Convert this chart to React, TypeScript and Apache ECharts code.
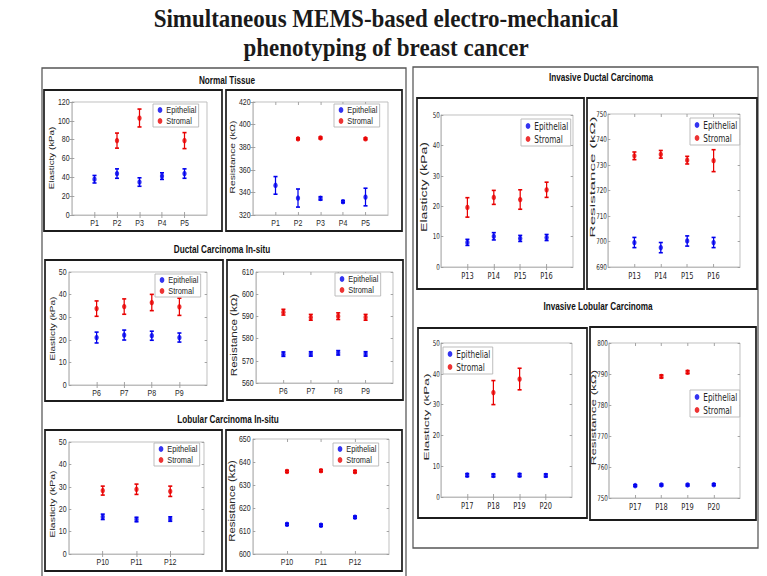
import React, { useEffect, useRef } from 'react';
import * as echarts from 'echarts';

// ---------------- data ----------------
const normalPatients = [1, 2, 3, 4, 5];
const dcisPatients = [6, 7, 8, 9];
const lcisPatients = [10, 11, 12];
const idcPatients = [13, 14, 15, 16];
const ilcPatients = [17, 18, 19, 20];

const normalElastEpi = [38, 44, 35, 41.3, 44];
const normalElastEpiErr = [4, 5, 4.5, 3.5, 5];
const normalElastStr = [null, 79, 103, null, 79];
const normalElastStrErr = [null, 8, 9.5, null, 8.5];
const normalResEpi = [346.2, 335, 334.7, 331.8, 335.9];
const normalResEpiErr = [7.8, 8, 1.5, 1, 7.8];
const normalResStr = [null, 387.4, 388.2, null, 387.4];
const normalResStrErr = [null, 0.8, 0.8, null, 0.8];

const dcisElastEpi = [21, 22.1, 21.8, 21];
const dcisElastEpiErr = [2.4, 2.2, 2, 2];
const dcisElastStr = [33.8, 34.7, 36.5, 34.6];
const dcisElastStrErr = [3.4, 3.4, 3.6, 3.8];
const dcisResEpi = [573, 573.1, 573.6, 573.1];
const dcisResEpiErr = [1, 1, 1, 1];
const dcisResStr = [591.9, 589.6, 590.1, 589.6];
const dcisResStrErr = [1.3, 1.3, 1.5, 1.3];

const lcisElastEpi = [16.6, 15.4, 15.6];
const lcisElastEpiErr = [1.2, 1, 1];
const lcisElastStr = [28.3, 28.9, 28.0];
const lcisElastStrErr = [2, 2.3, 2.3];
const lcisResEpi = [612.9, 612.5, 616.0];
const lcisResEpiErr = [0.5, 0.5, 0.5];
const lcisResStr = [635.9, 636.2, 635.8];
const lcisResStrErr = [0.5, 0.5, 0.5];

const idcElastEpi = [8.1, 10.1, 9.4, 9.7];
const idcElastEpiErr = [1, 1.2, 1, 1];
const idcElastStr = [19.6, 22.9, 22.2, 25.4];
const idcElastStrErr = [3.2, 2.3, 3.2, 2.5];
const idcResEpi = [699.6, 697.6, 700.2, 699.6];
const idcResEpiErr = [2, 2, 2, 2];
const idcResStr = [733.6, 734.2, 731.9, 731.7];
const idcResStrErr = [1.5, 1.5, 1.5, 4.3];

const ilcElastEpi = [7.1, 7.0, 7.1, 7.0];
const ilcElastEpiErr = [0.5, 0.5, 0.5, 0.5];
const ilcElastStr = [null, 33.9, 38.3, null];
const ilcElastStrErr = [null, 3.9, 3.5, null];
const ilcResEpi = [754.0, 754.2, 754.2, 754.3];
const ilcResEpiErr = [0.3, 0.3, 0.3, 0.3];
const ilcResStr = [null, 789.2, 790.6, null];
const ilcResStrErr = [null, 0.5, 0.5, null];

// y axis [min, max, interval]
const normalElastAxis = [0, 120, 20];
const normalResAxis = [320, 420, 20];
const dcisElastAxis = [0, 50, 10];
const dcisResAxis = [560, 610, 10];
const lcisElastAxis = [0, 50, 10];
const lcisResAxis = [600, 650, 10];
const idcElastAxis = [0, 50, 10];
const idcResAxis = [690, 750, 10];
const ilcElastAxis = [0, 50, 10];
const ilcResAxis = [750, 800, 10];

// x axis [min, max]
const normalXRange = [0, 6];
const dcisXRange = [5, 10];
const lcisXRange = [9, 13];
const idcXRange = [12, 17];
const ilcXRange = [16, 21];

const SERIES_EPI = 'Epithelial';
const SERIES_STR = 'Stromal';
const ELAST_NAME = 'Elasticty (kPa)';
const RES_NAME = 'Resistance (kΩ)';
const MAIN_TITLE_1 = 'Simultaneous MEMS-based electro-mechanical';
const MAIN_TITLE_2 = 'phenotyping of breast cancer';
const SECTION_TITLES = ['Normal Tissue', 'Ductal Carcinoma In-situ', 'Lobular Carcinoma In-situ', 'Invasive Ductal Carcinoma', 'Invasive Lobular Carcinoma'];

// ---------------- layout ----------------
const CW = 983;
const CH = 576;
const S = 767 / CW; // horizontal squeeze of the slide
const X = (v: number) => v / S;

const BLUE = '#0000ee';
const RED = '#e80000';
const AX = '#b8b8b8';
const TXT = '#262626';
const SANS = "'Liberation Sans', Arial, sans-serif";
const NARROW = "'Liberation Sans Narrow', 'DejaVu Sans Condensed', 'Liberation Sans', Arial, sans-serif";

type Panel = {
  xs: number[]; xr: number[]; ya: number[]; yName: string;
  epi: (number | null)[]; epiErr: (number | null)[]; str: (number | null)[]; strErr: (number | null)[];
  frame: number[]; grid: number[]; legend: number[];
  nameX: number; nameY: number; nameSize: number; nameStretch: number; big: boolean;
};

const panels: Panel[] = [
  { xs: normalPatients, xr: normalXRange, ya: normalElastAxis, yName: ELAST_NAME, epi: normalElastEpi, epiErr: normalElastEpiErr, str: normalElastStr, strErr: normalElastStrErr,
    frame: [44, 90, 222, 231], grid: [72, 102, 207, 215], legend: [153, 104], nameX: 51, nameY: 158, nameSize: 10, nameStretch: 0.98, big: false },
  { xs: normalPatients, xr: normalXRange, ya: normalResAxis, yName: RES_NAME, epi: normalResEpi, epiErr: normalResEpiErr, str: normalResStr, strErr: normalResStrErr,
    frame: [226, 90, 402, 231], grid: [253, 102, 388, 215], legend: [334, 104], nameX: 232.8, nameY: 157, nameSize: 10, nameStretch: 1.02, big: false },
  { xs: dcisPatients, xr: dcisXRange, ya: dcisElastAxis, yName: ELAST_NAME, epi: dcisElastEpi, epiErr: dcisElastEpiErr, str: dcisElastStr, strErr: dcisElastStrErr,
    frame: [45, 260, 223, 401], grid: [69, 272, 207, 385], legend: [155, 274], nameX: 52.3, nameY: 328.5, nameSize: 10, nameStretch: 1, big: false },
  { xs: dcisPatients, xr: dcisXRange, ya: dcisResAxis, yName: RES_NAME, epi: dcisResEpi, epiErr: dcisResEpiErr, str: dcisResStr, strErr: dcisResStrErr,
    frame: [227, 260, 403, 400], grid: [256, 272, 393, 383], legend: [335, 273], nameX: 234, nameY: 335, nameSize: 10.5, nameStretch: 1.1, big: false },
  { xs: lcisPatients, xr: lcisXRange, ya: lcisElastAxis, yName: ELAST_NAME, epi: lcisElastEpi, epiErr: lcisElastEpiErr, str: lcisElastStr, strErr: lcisElastStrErr,
    frame: [45, 430, 222, 571], grid: [69, 442, 204, 554], legend: [154, 443], nameX: 52.5, nameY: 504, nameSize: 10.3, nameStretch: 1.02, big: false },
  { xs: lcisPatients, xr: lcisXRange, ya: lcisResAxis, yName: RES_NAME, epi: lcisResEpi, epiErr: lcisResEpiErr, str: lcisResStr, strErr: lcisResStrErr,
    frame: [226, 430, 402, 571], grid: [253, 439, 389, 554], legend: [333, 443], nameX: 232.3, nameY: 501, nameSize: 10.5, nameStretch: 1.09, big: false },
  { xs: idcPatients, xr: idcXRange, ya: idcElastAxis, yName: ELAST_NAME, epi: idcElastEpi, epiErr: idcElastEpiErr, str: idcElastStr, strErr: idcElastStrErr,
    frame: [417, 98, 584, 289], grid: [441, 115, 573, 267], legend: [521, 119], nameX: 424, nameY: 187, nameSize: 10.5, nameStretch: 1.34, big: true },
  { xs: idcPatients, xr: idcXRange, ya: idcResAxis, yName: RES_NAME, epi: idcResEpi, epiErr: idcResEpiErr, str: idcResStr, strErr: idcResStrErr,
    frame: [587, 98, 757, 289], grid: [608, 114, 740, 267], legend: [690, 118], nameX: 592, nameY: 177, nameSize: 9.5, nameStretch: 1.79, big: true },
  { xs: ilcPatients, xr: ilcXRange, ya: ilcElastAxis, yName: ELAST_NAME, epi: ilcElastEpi, epiErr: ilcElastEpiErr, str: ilcElastStr, strErr: ilcElastStrErr,
    frame: [418, 328, 587, 518], grid: [441, 343, 572, 497], legend: [443, 347], nameX: 426.5, nameY: 417, nameSize: 10.3, nameStretch: 1.32, big: true },
  { xs: ilcPatients, xr: ilcXRange, ya: ilcResAxis, yName: RES_NAME, epi: ilcResEpi, epiErr: ilcResEpiErr, str: ilcResStr, strErr: ilcResStrErr,
    frame: [590, 327, 756, 520], grid: [609, 343, 740, 498], legend: [690, 390], nameX: 593.5, nameY: 417.5, nameSize: 9.5, nameStretch: 1.41, big: true },
];

const sectionTitlePos = [[227, 80], [222, 249], [228, 419], [601, 77], [598, 306]];

const errRenderer = (color: string) => (params: any, api: any) => {
  const x = api.value(0);
  const top = api.coord([x, api.value(2)]);
  const bot = api.coord([x, api.value(1)]);
  const cap = 2.6;
  const st = { stroke: color, lineWidth: 1.6 };
  return {
    type: 'group',
    children: [
      { type: 'line', shape: { x1: top[0], y1: top[1], x2: bot[0], y2: bot[1] }, style: st },
      { type: 'line', shape: { x1: top[0] - cap, y1: top[1], x2: top[0] + cap, y2: top[1] }, style: st },
      { type: 'line', shape: { x1: bot[0] - cap, y1: bot[1], x2: bot[0] + cap, y2: bot[1] }, style: st },
    ],
  };
};

function buildOption() {
  const grid: any[] = [];
  const xAxis: any[] = [];
  const yAxis: any[] = [];
  const series: any[] = [];
  const legend: any[] = [];
  const graphic: any[] = [];

  // section frames
  graphic.push(
    { type: 'rect', shape: { x: X(42), y: 68, width: X(406) - X(42), height: 530 }, style: { fill: 'none', stroke: '#555', lineWidth: 1.6 }, silent: true },
    { type: 'rect', shape: { x: X(413), y: 67, width: X(758) - X(413), height: 548 - 67 }, style: { fill: 'none', stroke: '#555', lineWidth: 1.6 }, silent: true },
  );

  panels.forEach((p, i) => {
    const [gl, gt, gr, gb] = p.grid;
    grid.push({
      left: X(gl), top: gt, width: X(gr) - X(gl), height: gb - gt,
      containLabel: false, outerBoundsMode: 'none',
      show: true, borderColor: AX, borderWidth: 1, backgroundColor: '#fff',
    });
    const lblSize = p.big ? 8 : 9;
    const lblFont = p.big ? NARROW : SANS;
    xAxis.push({
      type: 'value', gridIndex: i, min: p.xr[0], max: p.xr[1], interval: 1,
      axisLine: { show: true, lineStyle: { color: AX } },
      axisTick: { show: true, inside: true, length: 3, customValues: p.xs, lineStyle: { color: '#999' } },
      axisLabel: { customValues: p.xs, formatter: (v: number) => 'P' + v, fontSize: p.big ? 9.5 : 9, fontFamily: lblFont, color: TXT, margin: 4 },
      splitLine: { show: false },
    });
    yAxis.push({
      type: 'value', gridIndex: i, min: p.ya[0], max: p.ya[1], interval: p.ya[2],
      axisLine: { show: true, lineStyle: { color: AX } },
      axisTick: { show: true, inside: true, length: 3, lineStyle: { color: '#999' } },
      axisLabel: { fontSize: lblSize, fontFamily: lblFont, color: TXT, margin: p.big ? 1.5 : 3 },
      splitLine: { show: false },
    });
    const mk = (vals: (number | null)[]) => p.xs.map((x, k) => (vals[k] == null ? null : [x, vals[k]])).filter((d) => d) as number[][];
    const mkErr = (vals: (number | null)[], errs: (number | null)[]) =>
      p.xs.map((x, k) => (vals[k] == null || errs[k] == null ? null : [x, (vals[k] as number) - (errs[k] as number), (vals[k] as number) + (errs[k] as number)]))
        .filter((d) => d) as number[][];
    series.push({ type: 'custom', name: 'Epithelial error', xAxisIndex: i, yAxisIndex: i, data: mkErr(p.epi, p.epiErr), encode: { x: 0, y: [1, 2] }, renderItem: errRenderer(BLUE), silent: true, z: 2 });
    series.push({ type: 'custom', name: 'Stromal error', xAxisIndex: i, yAxisIndex: i, data: mkErr(p.str, p.strErr), encode: { x: 0, y: [1, 2] }, renderItem: errRenderer(RED), silent: true, z: 2 });
    series.push({ type: 'scatter', name: SERIES_EPI, xAxisIndex: i, yAxisIndex: i, data: mk(p.epi), symbol: 'circle', symbolSize: 5.5, itemStyle: { color: BLUE }, z: 3 });
    series.push({ type: 'scatter', name: SERIES_STR, xAxisIndex: i, yAxisIndex: i, data: mk(p.str), symbol: 'circle', symbolSize: 5.5, itemStyle: { color: RED }, z: 3 });

    const fs = p.big ? 10.5 : 9.5;
    const lh = p.big ? 12 : 10;
    legend.push({
      orient: 'vertical', left: X(p.legend[0]), top: p.legend[1],
      itemWidth: 6, itemHeight: 6, itemGap: 1, padding: [1, 3, 1, 6],
      borderColor: '#b4b4b4', borderWidth: 1, backgroundColor: '#fff', selectedMode: false,
      textStyle: { fontSize: fs, lineHeight: lh, color: TXT, fontFamily: p.big ? NARROW : SANS },
      data: [{ name: SERIES_EPI, icon: 'circle' }, { name: SERIES_STR, icon: 'circle' }],
    });

    const [fl, ft, fr, fb] = p.frame;
    graphic.push({
      type: 'rect', shape: { x: X(fl), y: ft, width: X(fr) - X(fl), height: fb - ft },
      style: { fill: 'none', stroke: '#1c1c1c', lineWidth: 2.2 }, silent: true,
    });
    // y-axis title, rotated
    graphic.push({
      type: 'text', x: X(p.nameX), y: p.nameY, rotation: Math.PI / 2, scaleX: p.nameStretch, silent: true,
      style: { text: p.yName, fontSize: p.nameSize, fontFamily: SANS, fill: TXT,
        align: 'center', verticalAlign: 'middle', textAlign: 'center', textVerticalAlign: 'middle' },
    });
  });

  // top / right tick axes (box ticks like MATLAB)
  panels.forEach((p, i) => {
    xAxis.push({
      type: 'value', gridIndex: i, position: 'top', min: p.xr[0], max: p.xr[1], interval: 1,
      axisLine: { show: false }, axisLabel: { show: false }, splitLine: { show: false },
      axisTick: { show: true, inside: true, length: 3, customValues: p.xs, lineStyle: { color: '#999' } },
    });
    yAxis.push({
      type: 'value', gridIndex: i, position: 'right', min: p.ya[0], max: p.ya[1], interval: p.ya[2],
      axisLine: { show: false }, axisLabel: { show: false }, splitLine: { show: false },
      axisTick: { show: true, inside: true, length: 3, lineStyle: { color: '#999' } },
    });
  });

  SECTION_TITLES.forEach((t, k) => {
    graphic.push({
      type: 'text', x: X(sectionTitlePos[k][0]), y: sectionTitlePos[k][1], silent: true,
      style: { text: t, fontSize: 10.5, fontWeight: 'bold', fontFamily: SANS, fill: '#111',
        align: 'center', verticalAlign: 'middle', textAlign: 'center', textVerticalAlign: 'middle' },
    });
  });

  [[MAIN_TITLE_1, 19], [MAIN_TITLE_2, 48]].forEach(([t, y]) => {
    graphic.push({
      type: 'text', x: X(386), y: y as number, scaleX: 1.18, silent: true,
      style: { text: t as string, fontSize: 25, fontWeight: 'bold', fontFamily: "'Liberation Serif', 'DejaVu Serif', serif", fill: '#1a1a1a',
        align: 'center', verticalAlign: 'middle', textAlign: 'center', textVerticalAlign: 'middle' },
    });
  });

  return {
    animation: false,
    backgroundColor: '#ffffff',
    textStyle: { fontFamily: SANS },
    grid, xAxis, yAxis, series, legend, graphic,
  };
}

export default function App() {
  const ref = useRef<HTMLDivElement>(null);
  useEffect(() => {
    document.documentElement.style.overflow = 'hidden';
    const chart = echarts.init(ref.current as HTMLDivElement, null, { renderer: 'svg', width: CW, height: CH });
    chart.setOption(buildOption() as any);
    return () => chart.dispose();
  }, []);
  return (
    <div
      ref={ref}
      style={{ position: 'absolute', left: 0, top: 0, width: CW, height: CH, transform: `scaleX(${S})`, transformOrigin: '0 0', background: '#fff' }}
    />
  );
}
